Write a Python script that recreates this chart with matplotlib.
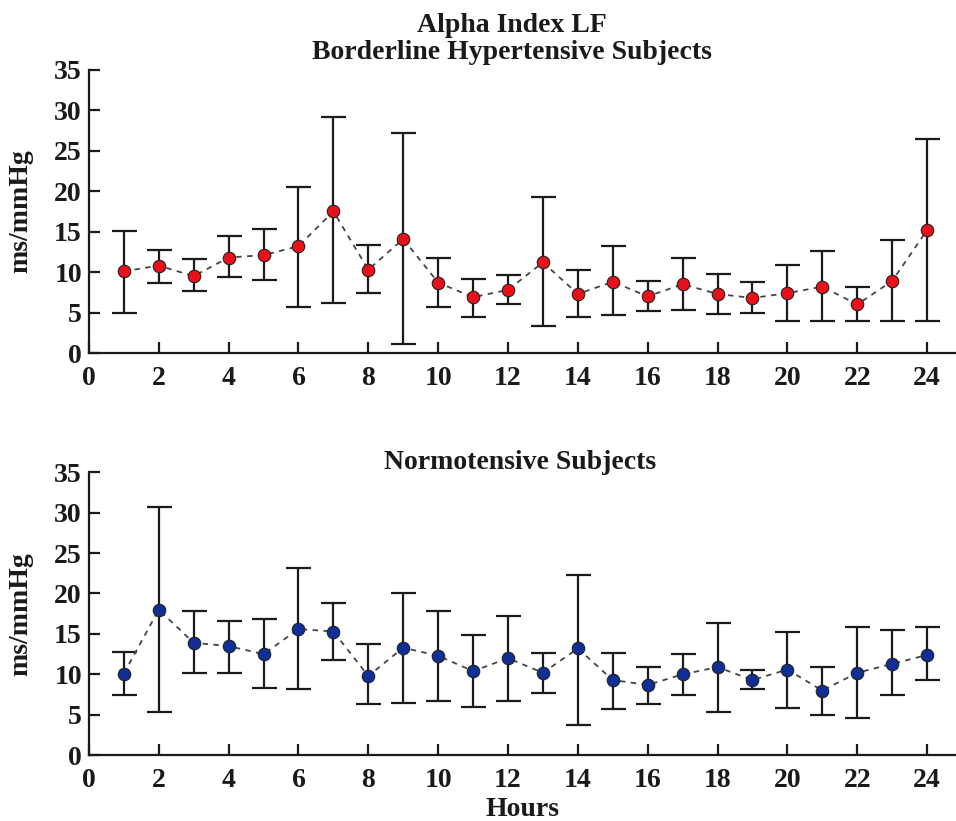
import numpy as np
import matplotlib.pyplot as plt

plt.rcParams['font.family'] = ['Liberation Serif', 'DejaVu Serif']
plt.rcParams['font.weight'] = 'bold'

hours = np.arange(1, 25)

# borderline hypertensive subjects
bh_mean = [10.1, 10.8, 9.5, 11.8, 12.1, 13.2, 17.5, 10.3, 14.1, 8.7, 6.9,
           7.8, 11.2, 7.3, 8.8, 7.0, 8.5, 7.3, 6.8, 7.4, 8.2, 6.0, 8.9, 15.2]
bh_upper = [15.1, 12.7, 11.6, 14.4, 15.3, 20.5, 29.2, 13.3, 27.2, 11.8, 9.1,
            9.7, 19.3, 10.3, 13.2, 8.9, 11.8, 9.8, 8.8, 10.9, 12.6, 8.1, 14.0, 26.4]
bh_lower = [5.0, 8.7, 7.7, 9.4, 9.0, 5.7, 6.2, 7.4, 1.1, 5.7, 4.5,
            6.0, 3.4, 4.5, 4.7, 5.2, 5.3, 4.8, 4.9, 4.0, 4.0, 4.0, 3.9, 4.0]

# normotensive subjects
nt_mean = [10.1, 18.0, 13.9, 13.5, 12.5, 15.6, 15.3, 9.8, 13.3, 12.3, 10.4,
           12.0, 10.2, 13.2, 9.3, 8.7, 10.0, 10.9, 9.3, 10.6, 8.0, 10.2, 11.3, 12.4]
nt_upper = [12.8, 30.7, 17.8, 16.6, 16.8, 23.1, 18.8, 13.7, 20.1, 17.8, 14.9,
            17.2, 12.7, 22.3, 12.6, 10.9, 12.5, 16.3, 10.5, 15.2, 10.9, 15.9, 15.5, 15.8]
nt_lower = [7.4, 5.4, 10.2, 10.2, 8.3, 8.2, 11.8, 6.4, 6.5, 6.7, 6.0,
            6.7, 7.7, 3.8, 5.7, 6.4, 7.5, 5.3, 8.2, 5.8, 5.0, 4.6, 7.4, 9.3]

txt = '#1a1a1a'
W, H = 956, 821

fig = plt.figure(figsize=(W / 100, H / 100), dpi=100)
ax1 = fig.add_axes([0.093, 0.570, 0.906, 0.345])
ax2 = fig.add_axes([0.093, 0.080, 0.906, 0.345])

def panel(ax, mean, upper, lower, color):
    mean = np.array(mean)
    err = [mean - np.array(lower), np.array(upper) - mean]
    ax.errorbar(hours, mean, yerr=err, fmt='none', ecolor='#1a1a1a',
                elinewidth=1.6, capsize=9, capthick=1.6, zorder=2)
    ax.plot(hours, mean, linestyle=(0, (3, 3)), color='#444444', lw=1.3,
            marker='o', markersize=9, markerfacecolor=color,
            markeredgecolor='#222222', markeredgewidth=0.8, zorder=3)
    ax.set_xlim(0, 24.8)
    ax.set_ylim(0, 35)
    ax.set_xticks(np.arange(0, 25, 2))
    ax.set_yticks(np.arange(0, 36, 5))
    ax.spines['top'].set_visible(False)
    ax.spines['right'].set_visible(False)
    for s in ['left', 'bottom']:
        ax.spines[s].set_linewidth(1.6)
        ax.spines[s].set_color('#1a1a1a')
    ax.tick_params(direction='in', length=8, width=1.6, colors='#1a1a1a',
                   labelsize=20, labelcolor=txt)
    ax.tick_params(axis='x', pad=9)
    ax.tick_params(axis='y', pad=5)
    ax.set_ylabel('ms/mmHg', fontsize=20, fontweight='bold', color=txt)
    ax.yaxis.set_label_coords(-0.064, 0.5)

panel(ax1, bh_mean, bh_upper, bh_lower, '#e8101a')
panel(ax2, nt_mean, nt_upper, nt_lower, '#0f2e96')

def label(x, y, s):
    fig.text(x / W, 1 - y / H, s, fontsize=20, fontweight='bold', color=txt,
             ha='center', va='baseline')

label(512, 32, 'Alpha Index LF')
label(512, 59, 'Borderline Hypertensive Subjects')
label(520, 469, 'Normotensive Subjects')
label(522, 816, 'Hours')

fig.savefig('out.png', dpi=100)
